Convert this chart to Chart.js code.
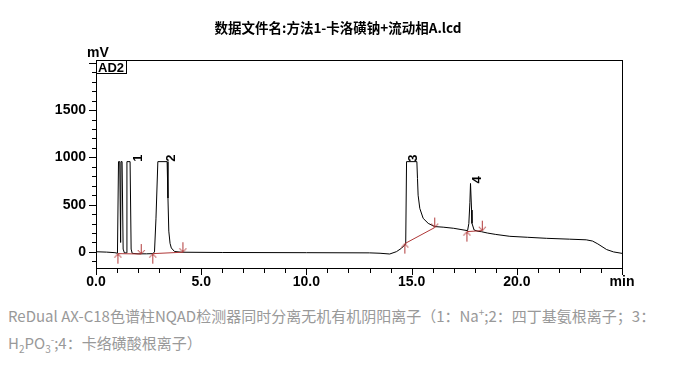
<!DOCTYPE html>
<html><head><meta charset="utf-8">
<script src="https://cdn.jsdelivr.net/npm/chart.js@4"></script>
<style>
html,body{margin:0;padding:0;background:#fff;width:673px;height:369px;overflow:hidden;}
#wrap{position:relative;width:673px;height:369px;background:#fff;}
#c{position:absolute;left:0;top:0;}
.cap{position:absolute;left:8px;font-family:"Noto Sans CJK SC";font-size:15px;line-height:20px;color:#999;white-space:nowrap;}
.cap sub,.cap sup{font-size:10px;line-height:0;}
</style></head><body>
<div id="wrap">
<canvas id="c" width="673" height="295"></canvas>
<div class="cap" style="top:306px">ReDual AX-C18色谱柱NQAD检测器同时分离无机有机阴阳离子（1：Na<sup>+</sup>;2：四丁基氨根离子；3：</div>
<div class="cap" style="top:333px">H<sub>2</sub>PO<sub>3</sub><sup>-</sup>;4：卡络磺酸根离子）</div>
</div>
<script>
// ---- data ----
const titleText = '数据文件名:方法1-卡洛磺钠+流动相A.lcd';
const times  = [0, 0.5, 0.9, 1.02, 1.07, 1.13, 1.17, 1.19, 1.24, 1.29, 1.35, 1.44, 1.47, 1.62, 1.67, 1.72, 2.0, 2.4, 2.7, 2.78, 2.85, 2.94, 3.38, 3.42, 3.46, 3.52, 3.58, 3.73, 4.05, 6.0, 10.0, 13.0, 13.5, 13.96, 14.28, 14.52, 14.72, 14.76, 15.25, 15.28, 15.31, 15.39, 15.55, 15.79, 16.1, 16.5, 17.0, 17.66, 17.72, 17.77, 17.8, 17.85, 17.87, 17.97, 18.16, 18.32, 18.6, 19.0, 19.67, 20.5, 21.42, 22.5, 23.3, 23.6, 23.85, 24.27, 24.6, 25.0];
const signal = [2, -2, -8, -14, 955, 955, 100, 955, 955, 30, -10, -10, 955, 955, 30, -15, -20, -20, -18, 0, 350, 955, 955, 570, 220, 90, 42, 5, -3, -6, -8, -10, -14, -22, 3, 39, 84, 955, 955, 776, 600, 460, 355, 302, 268, 262, 250, 225, 300, 520, 724, 443, 302, 232, 218, 214, 200, 185, 165, 155, 144, 135, 128, 115, 85, 25, 0, -15];
const peakNames       = ['1', '2', '3', '4'];
const peakLabelTimes  = [2.0, 3.59, 15.08, 18.13];
const peakTopValues   = [955, 955, 955, 724];
const peakStartTimes  = [1.04, 2.70, 14.68, 17.63];
const peakStartValues = [-18, -18, 88, 215];
const peakEndTimes    = [2.15, 4.13, 16.10, 18.36];
const peakEndValues   = [-22, -3, 258, 225];
const xTickValues = [0, 5, 10, 15, 20, 25];
const xTickLabels = ['0.0', '5.0', '10.0', '15.0', '20.0', 'min'];
const yTickValues = [0, 500, 1000, 1500];
const yTickLabels = ['0', '500', '1000', '1500'];
const yUnit = 'mV';
const channel = 'AD2';

// ---- styles ----
const RED = '#b03838';
const AXFONT = '"Liberation Sans", Arial, sans-serif';

function makeArrow(up) {
  const c = document.createElement('canvas');
  c.width = 9; c.height = 22;
  const g = c.getContext('2d');
  g.strokeStyle = RED; g.lineWidth = 1;
  g.beginPath();
  if (up) {
    g.moveTo(4.5, 11); g.lineTo(4.5, 21);
    g.moveTo(4.5, 11); g.lineTo(1, 15);
    g.moveTo(4.5, 11); g.lineTo(8, 15);
  } else {
    g.moveTo(4.5, 11); g.lineTo(4.5, 1);
    g.moveTo(4.5, 11); g.lineTo(1, 7);
    g.moveTo(4.5, 11); g.lineTo(8, 7);
  }
  g.stroke();
  return c;
}
const arrowUp = makeArrow(true), arrowDown = makeArrow(false);

const datasets = [{
  type: 'line',
  data: times.map((t, i) => ({x: t, y: signal[i]})),
  borderColor: '#000', borderWidth: 1, pointRadius: 0, tension: 0, order: 3, clip: false
}];
peakStartTimes.forEach((t, i) => {
  datasets.push({
    type: 'line',
    data: [{x: t, y: peakStartValues[i]}, {x: peakEndTimes[i], y: peakEndValues[i]}],
    borderColor: RED, borderWidth: 1, pointRadius: 0, order: 2
  });
});
datasets.push({
  type: 'scatter',
  data: peakStartTimes.map((t, i) => ({x: t, y: peakStartValues[i]})),
  pointStyle: arrowUp, pointRadius: 3, order: 1
});
datasets.push({
  type: 'scatter',
  data: peakEndTimes.map((t, i) => ({x: t, y: peakEndValues[i]})),
  pointStyle: arrowDown, pointRadius: 3, order: 1
});

const deco = {
  id: 'deco',
  beforeDraw(chart) {
    const ctx = chart.ctx;
    ctx.save(); ctx.fillStyle = '#fff'; ctx.fillRect(0, 0, chart.width, chart.height); ctx.restore();
  },
  afterDraw(chart) {
    const {ctx, chartArea: a, scales: {x, y}} = chart;
    ctx.save();
    ctx.fillStyle = '#000';
    // title
    ctx.font = 'bold 13.5px "Noto Sans CJK SC"';
    ctx.textAlign = 'center'; ctx.textBaseline = 'middle';
    ctx.fillText(titleText, 338, 28);
    // border
    ctx.strokeStyle = '#000'; ctx.lineWidth = 1;
    ctx.strokeRect(a.left + 0.5, a.top + 0.5, a.right - a.left, a.bottom - a.top);
    // x ticks
    for (let v = 0; v <= 25; v++) {
      const px = Math.round(x.getPixelForValue(v));
      const len = (v % 5 === 0) ? 7 : 5;
      ctx.fillRect(Math.min(px, Math.round(a.right)), Math.round(a.bottom), 1, len);
    }
    // y ticks
    for (let v = -100; v <= 2000; v += 100) {
      const py = Math.round(y.getPixelForValue(v));
      const len = (v % 500 === 0) ? 7 : 4;
      ctx.fillRect(Math.round(a.left) - len, py, len, 1);
    }
    // unit
    ctx.font = 'bold 14px ' + AXFONT;
    ctx.textAlign = 'left'; ctx.textBaseline = 'alphabetic';
    ctx.fillText(yUnit, 87, 57);
    // channel box
    ctx.font = 'bold 13px ' + AXFONT;
    const w = ctx.measureText(channel).width;
    ctx.fillText(channel, a.left + 2, a.top + 12);
    ctx.strokeRect(a.left + 0.5, a.top + 0.5, Math.round(w) + 4, 13);
    // peak labels
    ctx.font = 'bold 13px ' + AXFONT;
    peakNames.forEach((n, i) => {
      const px = x.getPixelForValue(peakLabelTimes[i]);
      const py = y.getPixelForValue(peakTopValues[i]);
      ctx.save();
      ctx.translate(px, py);
      ctx.rotate(-Math.PI / 2);
      ctx.textAlign = 'left'; ctx.textBaseline = 'middle';
      ctx.fillText(n, 0, 0);
      ctx.restore();
    });
    ctx.restore();
  }
};

new Chart(document.getElementById('c'), {
  data: {datasets},
  options: {
    responsive: false, animation: false,
    layout: {padding: {top: 60, right: 51, left: 0, bottom: 0}},
    plugins: {legend: {display: false}, tooltip: {enabled: false}, title: {display: false}},
    scales: {
      x: {
        type: 'linear', min: 0, max: 25,
        grid: {display: false, drawTicks: false}, border: {display: false},
        afterFit(s) { s.height = 27; },
        afterBuildTicks(s) { s.ticks = xTickValues.map(v => ({value: v})); },
        ticks: {
          autoSkip: false, maxRotation: 0, padding: 6, color: '#000',
          font: {family: AXFONT, size: 14, weight: 'bold'},
          callback: (v) => xTickLabels[xTickValues.indexOf(v)]
        }
      },
      y: {
        type: 'linear', min: -170, max: 2030,
        grid: {display: false, drawTicks: false}, border: {display: false},
        afterFit(s) { s.width = 96; },
        afterBuildTicks(s) { s.ticks = yTickValues.map(v => ({value: v})); },
        ticks: {
          autoSkip: false, padding: 10, color: '#000',
          font: {family: AXFONT, size: 14, weight: 'bold'},
          callback: (v) => yTickLabels[yTickValues.indexOf(v)]
        }
      }
    }
  },
  plugins: [deco]
});
</script>
</body></html>
